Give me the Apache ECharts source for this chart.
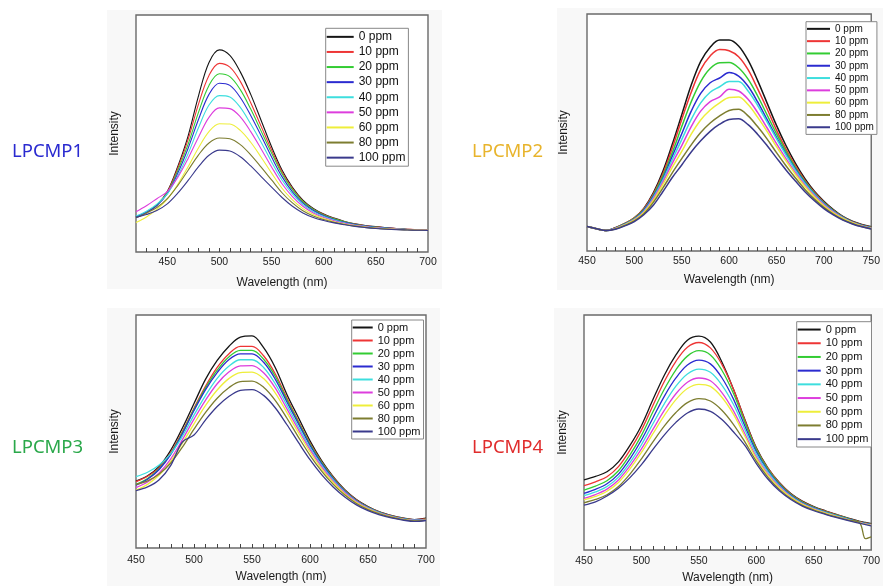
<!DOCTYPE html>
<html><head><meta charset="utf-8">
<script src="https://cdn.jsdelivr.net/npm/echarts@6/dist/echarts.min.js"></script>
<style>html,body{margin:0;padding:0;background:#fff}#c{width:883px;height:586px}</style>
</head><body><div id="c"></div>
<script>
// ---------- DATA ----------
const NAMES = ['0 ppm','10 ppm','20 ppm','30 ppm','40 ppm','50 ppm','60 ppm','80 ppm','100 ppm'];
const PANEL_TITLES = ['LPCMP1','LPCMP2','LPCMP3','LPCMP4'];

const TICKS1 = [450,500,550,600,650,700];
const TICKS2 = [450,500,550,600,650,700,750];
const TICKS3 = [450,500,550,600,650,700];
const TICKS4 = [450,500,550,600,650,700];

// Panel 1 (LPCMP1) wavelengths, nm
const W1 = [420,430,440,450,460,470,480,490,500,510,520,530,540,550,560,570,580,590,600,610,620,630,640,650,660,670,680,690,700];
const P1_0   = [14.9,16.8,19.8,25.5,36,49,66,80,85.3,83,76,66.5,55.5,44.4,34.6,27.3,21.9,18.4,16,14.3,12.9,11.9,11.2,10.7,10.3,9.9,9.6,9.4,9.3];
const P1_10  = [14.6,16.6,19.8,25.3,35.2,47.5,62.5,74.5,79.6,78,72,63,53,43,33.8,26.8,21.5,18.1,15.8,14.1,12.8,11.8,11.1,10.6,10.2,9.8,9.6,9.4,9.3];
const P1_20  = [14.8,16.7,19.8,25,34.3,45.5,59,70.3,75.2,74,68.5,60.3,51,41.8,33,26.3,21.2,17.9,15.6,14,12.7,11.7,11,10.5,10.1,9.8,9.5,9.4,9.3];
const P1_30  = [15,16.8,19.6,24.6,33.2,43.8,56,66.5,71.2,70.3,65.2,57.6,49,40.1,31.8,25.4,20.6,17.5,15.3,13.7,12.5,11.6,10.9,10.4,10.1,9.8,9.5,9.4,9.3];
const P1_40  = [15.2,17.2,20.2,24.5,32,41.5,52.5,62,66,65.4,61,54,46.3,38,30.4,24.5,20,17,15,13.5,12.3,11.4,10.8,10.3,10,9.7,9.5,9.4,9.3];
const P1_50  = [17,19.5,22.5,25.5,31.5,39.5,48.5,56.8,60.8,60.5,57,50.8,43.5,35.9,28.8,23.4,19.3,16.5,14.6,13.2,12.1,11.3,10.7,10.2,9.9,9.7,9.5,9.4,9.3];
const P1_60  = [12.4,14.8,18,22.3,28.5,36,44,50.8,54.1,54,51.3,46.3,40,33.3,26.9,22,18.3,15.8,14.1,12.8,11.8,11.1,10.5,10.1,9.8,9.6,9.4,9.3,9.2];
const P1_80  = [14.5,16.4,18.8,22.5,28,34.5,41,46,48.1,47.8,45.3,41,35.8,30.4,25,20.7,17.4,15.2,13.7,12.5,11.6,10.9,10.4,10,9.7,9.5,9.3,9.2,9.2];
const P1_100 = [14.6,15.8,17.5,20.3,24.8,30.2,36,40.8,43,42.6,40.2,36.3,31.8,27.4,23,19.3,16.5,14.6,13.3,12.3,11.5,10.8,10.3,9.9,9.6,9.4,9.3,9.2,9.1];

// Panel 2 (LPCMP2)
const W2 = [450,460,470,480,490,500,510,520,530,540,550,560,570,580,590,600,610,620,630,640,650,660,670,680,690,700,710,720,730,740,750];
const P2_0   = [10.3,9.4,8.6,9.8,11.6,14,18,24.5,33.5,45,57.5,70,80,86,89,89,86.5,80.5,72,62.5,53,44.5,37,30.5,25.2,21,17.5,14.6,12.6,11.2,10.2];
const P2_10  = [10.3,9.4,8.6,9.8,11.6,14,17.8,24,32.5,43.5,55.5,67,76.5,82.3,85,84.5,82,76.5,68.5,60,51,43,36,29.8,24.8,20.6,17.2,14.4,12.4,11,10];
const P2_20  = [10.3,9.4,8.6,9.7,11.5,13.8,17.5,23.5,31.5,41.5,52.5,63,71.5,77,79.4,79.5,77.3,72.5,65.5,57.5,49.5,42,35.2,29.3,24.4,20.3,17,14.3,12.3,10.9,9.9];
const P2_30  = [10.3,9.4,8.6,9.6,11.3,13.5,17.2,23,30.5,40,49.5,59,66.5,71,73,75.3,73.8,69.5,63,55.5,48,41,34.5,28.8,24,20,16.8,14.2,12.2,10.8,9.8];
const P2_40  = [10.3,9.4,8.6,9.5,11.2,13.3,16.8,22.5,29.8,38.5,47,55.5,62.5,67,69.3,71.5,71.5,67.5,61.5,54.5,47.3,40.5,34,28.5,23.8,19.8,16.6,14.1,12.1,10.7,9.7];
const P2_50  = [10.3,9.4,8.6,9.5,11.1,13.2,16.5,22,29,37,44.5,52.5,59,63,65,68.3,67.5,64,58.5,52,45.3,39,33,27.8,23.3,19.5,16.4,13.9,12,10.6,9.6];
const P2_60  = [10.3,9.4,8.6,9.4,11,13,16.2,21.3,28,35.3,42,49.3,55.3,59.5,62.5,64.8,65,61.8,56.5,50.5,44,38,32.3,27.2,22.8,19.1,16.1,13.7,11.9,10.5,9.5];
const P2_80  = [10.3,9.4,8.6,9.3,10.8,12.7,15.7,20.5,26.5,33,39,44.8,50,54,57,59.3,59.8,57,52.5,47.3,41.5,36,30.8,26,21.9,18.4,15.6,13.3,11.6,10.3,9.4];
const P2_100 = [10.3,9.4,8.6,9.2,10.6,12.4,15.3,19.3,25,31,36.3,41.8,46.5,50.5,53.5,55.5,55.8,53.3,49.3,44.5,39.3,34.2,29.5,25,21.2,17.9,15.2,13,11.4,10.2,9.3];

// Panel 3 (LPCMP3)
const W3 = [450,460,470,480,490,500,510,520,530,540,550,560,570,580,590,600,610,620,630,640,650,660,670,680,690,700];
const P3_0   = [28.7,31,35,42,51.5,62,72.5,80.5,86.5,90.5,91,86,77.5,66,56,46,37.5,30.6,25,20.8,17.8,15.5,14,12.9,12.2,12.8];
const P3_10  = [28.5,30.8,34.5,41,50,60,69.5,77.5,83.3,86.5,86.5,82.5,74.8,64.5,54.5,45,37,30.3,24.8,20.6,17.6,15.4,13.9,12.8,12.1,12.6];
const P3_20  = [27.3,29.8,34,40.5,49.5,59.5,68.7,76.3,82,84.8,84.8,81,73.7,63.7,54,44.6,36.7,30,24.6,20.4,17.5,15.3,13.8,12.7,12,12.4];
const P3_30  = [27,29.5,33.7,40.2,49,59,68,75.3,80.8,83.3,83.3,79.7,72.5,62.8,53.3,44,36.2,29.7,24.4,20.3,17.4,15.2,13.7,12.6,11.9,12.3];
const P3_40  = [30.6,32.5,35.6,40.5,48,57,65.5,72.8,78,80.8,80.8,77.5,70.5,61.3,52,43,35.5,29.2,24,20,17.2,15.1,13.6,12.5,11.9,12.2];
const P3_50  = [25.9,28.3,32.2,38.3,46.5,55.3,63.5,70.5,75.5,78.2,78.3,75.2,68.7,59.8,50.8,42.2,34.8,28.7,23.7,19.8,17,14.9,13.5,12.4,11.8,12.1];
const P3_60  = [24.8,27.3,31.3,37.2,45,53.3,61.2,67.8,72.7,75.3,75.5,72.7,66.6,58.2,49.5,41.2,34,28.1,23.2,19.5,16.8,14.8,13.4,12.3,11.7,12];
const P3_80  = [27.3,28.8,31.8,36.5,43.3,51,58.2,64.3,68.8,71.4,71.6,69,63.4,55.8,47.6,39.8,33,27.3,22.7,19.1,16.5,14.6,13.2,12.2,11.6,12];
const P3_100 = [24.6,26.2,29.3,35.5,45.5,48.5,55,60.7,65,67.6,68,65.5,60.2,53,45.3,37.9,31.5,26.2,21.9,18.5,16,14.2,12.9,12,11.4,11.8];

// Panel 4 (LPCMP4)
const W4 = [450,460,470,480,490,500,510,520,530,540,550,560,570,580,590,600,610,620,630,640,650,660,670,680,690,695,700];
const P4_0   = [29.8,31.3,33.3,37.5,44.5,53,64,74.5,83,89.3,91,88.5,80,68.5,55.5,43.5,35,28.7,24,20.8,18.5,16.7,15.1,13.6,12.2,11.7,11.2];
const P4_10  = [27.4,29,31.2,35.5,42.5,51,61.5,71.8,80.3,86.3,88.3,86,79,68.5,55.2,43.2,34.8,28.5,23.8,20.6,18.3,16.5,14.9,13.4,12,11.5,11];
const P4_20  = [25.5,27.2,29.5,33.7,40.5,48.8,58.8,68.5,76.7,82.5,84.8,83,76.5,66.7,54.3,42.7,34.4,28.2,23.6,20.4,18.1,16.3,14.8,13.3,11.9,11.4,10.9];
const P4_30  = [24.1,25.8,28.2,32.3,38.8,46.8,56.2,65.5,73.2,78.7,80.8,79.2,73.3,64.3,52.8,41.8,33.8,27.8,23.3,20.1,17.9,16.1,14.6,13.1,11.8,11.3,10.8];
const P4_40  = [23.1,24.7,27,31,37.2,44.8,53.7,62.3,69.7,74.9,77,75.6,70.2,62,51.3,40.8,33.2,27.4,23,19.9,17.7,16,14.5,13,11.7,11.2,10.7];
const P4_50  = [22,23.6,25.9,29.8,35.8,43,51.3,59.5,66.5,71.4,73.2,72,67,59.3,49.5,39.6,32.4,26.9,22.7,19.6,17.5,15.8,14.3,12.9,11.6,11.1,10.6];
const P4_60  = [21.3,22.8,25,28.7,34.5,41.5,49.5,57.3,64,68.7,70.5,69.6,65,57.8,48.4,38.9,31.9,26.5,22.4,19.4,17.3,15.7,14.2,12.8,11.5,11,10.5];
const P4_80  = [20.1,21.5,23.5,27,32.3,38.8,46,52.8,58.5,62.7,64.4,63.4,59.5,53.5,46,37.8,31,25.8,21.9,19,17,15.4,14,12.7,11.5,4.8,5.6];
const P4_100 = [19.1,20.5,23,26.3,30.8,36.3,42.8,49,54.3,58.3,60,59,55.5,50.3,44.5,36.8,30.2,25.2,21.5,18.7,16.7,15.2,13.8,12.5,11.3,10.8,10.3];

// ---------- STYLE / LAYOUT ----------
const COLORS = ['#151515','#ee3535','#33cc33','#2b2bd0','#3ddede','#dd3ddd','#eeee3a','#7d7d30','#3a3a8c'];
const FONT = 'Liberation Sans, Arial, sans-serif';

const panels = [
  {w:W1, d:[P1_0,P1_10,P1_20,P1_30,P1_40,P1_50,P1_60,P1_80,P1_100], ticks:TICKS1, min:420, max:700,
   grid:{left:136, top:15, width:292, height:237}, labMargin:5, nameGap:25, yGap:15, lw:1.1,
   leg:{left:325.7, top:28.3, font:12, lh:15.1, iw:27}, bg:[107,10,335,279],
   title:{x:12, y:152, color:'#2a2ad0'}},
  {w:W2, d:[P2_0,P2_10,P2_20,P2_30,P2_40,P2_50,P2_60,P2_80,P2_100], ticks:TICKS2, min:450, max:750,
   grid:{left:587, top:14, width:291, height:237}, labMargin:5, nameGap:23, yGap:17, lw:1.5,
   leg:{left:806, top:21.7, font:10, lh:12.3, iw:23}, bg:[557,8,326,282],
   title:{x:472, y:152, color:'#e8b42c'}},
  {w:W3, d:[P3_0,P3_10,P3_20,P3_30,P3_40,P3_50,P3_60,P3_80,P3_100], ticks:TICKS3, min:450, max:700,
   grid:{left:136, top:315, width:290, height:233}, labMargin:7, nameGap:23, yGap:15, lw:1.3,
   leg:{left:351.7, top:320, font:11, lh:13, iw:20}, bg:[107,308,333,278],
   title:{x:12, y:448, color:'#2aa84a'}},
  {w:W4, d:[P4_0,P4_10,P4_20,P4_30,P4_40,P4_50,P4_60,P4_80,P4_100], ticks:TICKS4, min:450, max:700,
   grid:{left:584, top:315, width:292, height:235}, labMargin:6, nameGap:22, yGap:15, lw:1.3,
   leg:{left:796.7, top:321.7, font:11, lh:13.7, iw:23}, bg:[554,308,329,278],
   title:{x:472, y:448, color:'#e02c2c'}}
];

const grids = [], xAxes = [], yAxes = [], series = [], legends = [], graphics = [];
panels.forEach((p, i) => {
  grids.push(Object.assign({show:true, borderColor:'#6a6a6a', borderWidth:1.4, backgroundColor:'#fff'}, p.grid));
  const minor = [];
  for (let v = Math.ceil((p.min + 1) / 10) * 10; v < p.max; v += 10) minor.push(v);
  xAxes.push({
    gridIndex:i, type:'value', min:p.min, max:p.max,
    axisLine:{show:false}, splitLine:{show:false},
    axisTick:{show:true, inside:true, length:4, customValues:minor, lineStyle:{color:'#444', width:1}},
    axisLabel:{customValues:p.ticks, fontSize:10.5, color:'#1a1a1a', fontFamily:FONT, margin:p.labMargin},
    name:'Wavelength (nm)', nameLocation:'middle', nameGap:p.nameGap,
    nameTextStyle:{fontSize:12, color:'#1a1a1a', fontFamily:FONT}
  });
  yAxes.push({
    gridIndex:i, type:'value', min:0, max:100,
    axisLine:{show:false}, axisTick:{show:false}, axisLabel:{show:false}, splitLine:{show:false},
    name:'Intensity', nameLocation:'middle', nameGap:p.yGap,
    nameTextStyle:{fontSize:12, color:'#1a1a1a', fontFamily:FONT}
  });
  NAMES.forEach((n, j) => {
    series.push({
      type:'line', name:n, xAxisIndex:i, yAxisIndex:i,
      data:p.w.map((x, k) => [x, p.d[j][k]]),
      symbol:'none', smooth:0.35, clip:true, silent:true,
      lineStyle:{width:p.lw, color:COLORS[j]}, itemStyle:{color:COLORS[j]}
    });
  });
  legends.push({
    orient:'vertical', left:p.leg.left, top:p.leg.top, data:NAMES, selectedMode:false,
    icon:'rect', itemWidth:p.leg.iw, itemHeight:2, itemGap:0,
    padding:[1,3,1,1], borderColor:'#888', borderWidth:1, backgroundColor:'#fff',
    textStyle:{fontSize:p.leg.font, lineHeight:p.leg.lh, color:'#111', fontFamily:FONT}
  });
  graphics.push({type:'rect', z:-100, silent:true,
    shape:{x:p.bg[0], y:p.bg[1], width:p.bg[2], height:p.bg[3]}, style:{fill:'#f8f8f8'}});
  graphics.push({type:'text', z:100, silent:true, x:p.title.x, y:p.title.y,
    style:{text:PANEL_TITLES[i], fill:p.title.color, font:'18.5px "Noto Sans", sans-serif', verticalAlign:'middle'}});
});

const chart = echarts.init(document.getElementById('c'), null, {renderer:'canvas'});
chart.setOption({
  animation:false, backgroundColor:'#fff',
  grid:grids, xAxis:xAxes, yAxis:yAxes, legend:legends, series:series, graphic:graphics
});
</script></body></html>
